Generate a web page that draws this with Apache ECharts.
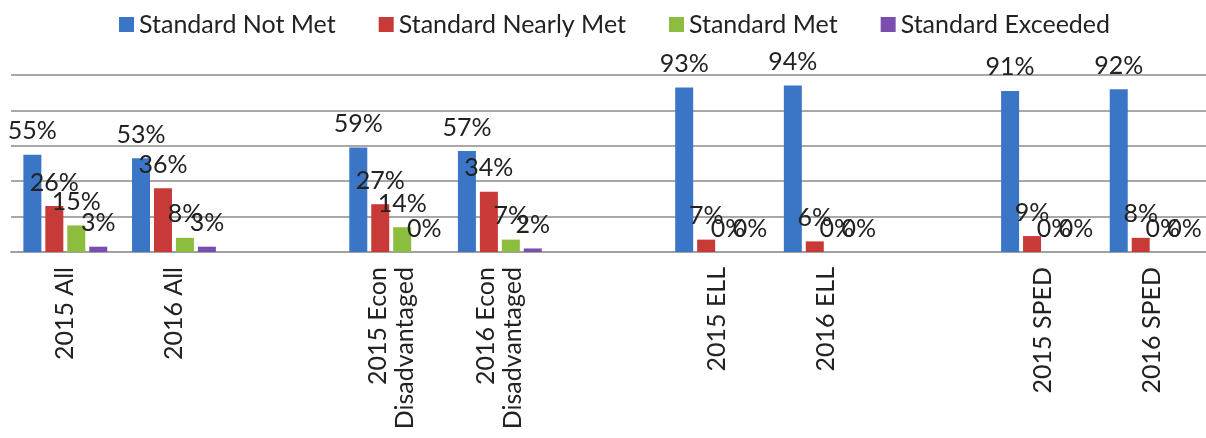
<!DOCTYPE html>
<html>
<head>
<meta charset="utf-8">
<script src="https://cdn.jsdelivr.net/npm/echarts@6/dist/echarts.min.js"></script>
<style>
html,body{margin:0;padding:0;background:#fff;}
#chart{width:1206px;height:438px;}
</style>
</head>
<body>
<div id="chart"></div>
<script>
var categories = ['2015 All', '2016 All', '', '2015 Econ\nDisadvantaged', '2016 Econ\nDisadvantaged', '', '2015 ELL', '2016 ELL', '', '2015 SPED', '2016 SPED'];
var seriesNames = ['Standard Not Met', 'Standard Nearly Met', 'Standard Met', 'Standard Exceeded'];
var notMet = [55, 53, null, 59, 57, null, 93, 94, null, 91, 92];
var nearlyMet = [26, 36, null, 27, 34, null, 7, 6, null, 9, 8];
var met = [15, 8, null, 14, 7, null, 0, 0, null, 0, 0];
var exceeded = [3, 3, null, 0, 2, null, 0, 0, null, 0, 0];
var yTicks = [0, 20, 40, 60, 80, 100];

var colors = ['#3b76c6', '#c83a38', '#8dbd3f', '#7a4eae'];
var FONT = 'Lato';

function mk(name, data, i) {
  return {
    name: name,
    type: 'bar',
    data: data,
    barWidth: 18,
    barGap: '22%',
    itemStyle: { color: colors[i] },
    label: {
      show: true,
      position: 'top',
      distance: 11,
      formatter: function (p) { return p.value + '%'; },
      fontFamily: FONT,
      fontSize: 25,
      color: '#222'
    }
  };
}

var chart = echarts.init(document.getElementById('chart'), null, { renderer: 'canvas' });
chart.setOption({
  animation: false,
  backgroundColor: '#fff',
  legend: {
    data: seriesNames,
    top: 7,
    left: 114,
    itemWidth: 15,
    itemHeight: 15,
    itemGap: 43,
    icon: 'rect',
    textStyle: { fontFamily: FONT, fontSize: 25, color: '#222' }
  },
  grid: { left: 11, right: 0, top: 75, bottom: 186, containLabel: false },
  xAxis: {
    type: 'category',
    data: categories,
    axisTick: { show: false },
    axisLine: { lineStyle: { color: '#a0a0a0', width: 2 } },
    axisLabel: {
      interval: 0,
      rotate: 90,
      margin: 15,
      fontFamily: FONT,
      fontSize: 25,
      color: '#222',
      lineHeight: 27
    }
  },
  yAxis: {
    type: 'value',
    min: yTicks[0],
    max: yTicks[yTicks.length - 1],
    interval: yTicks[1] - yTicks[0],
    axisLabel: { show: false },
    axisLine: { show: false },
    axisTick: { show: false },
    splitLine: { lineStyle: { color: '#a8a8a8', width: 2 } }
  },
  series: [
    mk(seriesNames[0], notMet, 0),
    mk(seriesNames[1], nearlyMet, 1),
    mk(seriesNames[2], met, 2),
    mk(seriesNames[3], exceeded, 3)
  ]
});
</script>
</body>
</html>
